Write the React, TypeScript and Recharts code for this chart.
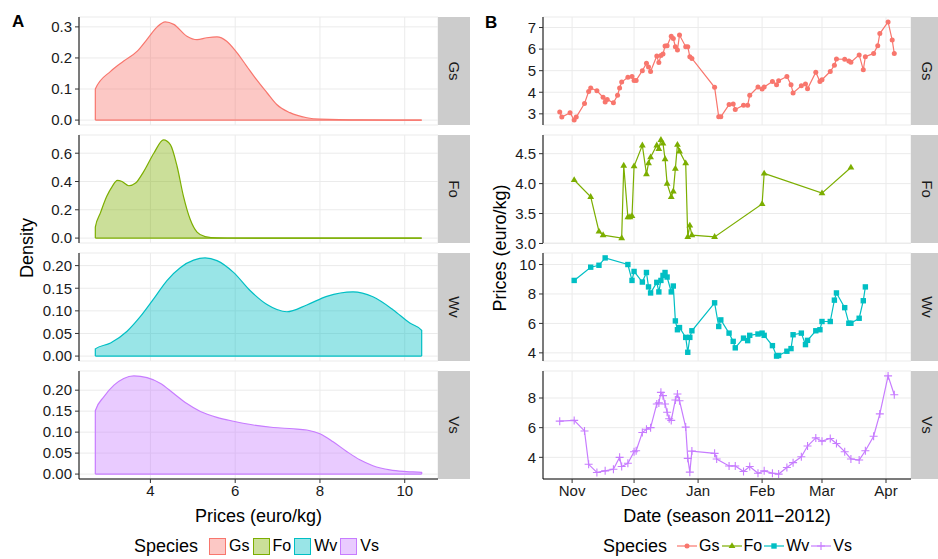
import React from 'react';
import { AreaChart, Area, LineChart, Line, XAxis, YAxis, CartesianGrid, ReferenceLine } from 'recharts';

const species = ['Gs', 'Fo', 'Wv', 'Vs'];
const speciesColors = ['#F8766D', '#7CAE00', '#00BFC4', '#C77CFF'];

// --- panel A: price densities (euro/kg -> density)
const gsDensPrice = [2.7, 3.06, 3.37, 3.69, 3.92, 4.16, 4.35, 4.55, 4.86, 5.1, 5.33, 5.57, 5.8, 6.04, 6.27, 6.5, 6.75, 6.98, 7.29, 7.69, 8.0, 9.0, 10.4];
const gsDens = [0.1, 0.157, 0.19, 0.222, 0.26, 0.3, 0.316, 0.308, 0.27, 0.259, 0.265, 0.268, 0.254, 0.217, 0.174, 0.131, 0.088, 0.05, 0.024, 0.0075, 0.003, 0.0005, 0];

const foDensPrice = [2.7, 2.82, 2.97, 3.1, 3.22, 3.33, 3.49, 3.65, 3.84, 4.08, 4.31, 4.47, 4.63, 4.78, 4.94, 5.1, 5.29, 5.57, 6.5, 10.4];
const foDens = [0.077, 0.178, 0.295, 0.366, 0.408, 0.4, 0.37, 0.389, 0.47, 0.6, 0.694, 0.66, 0.506, 0.295, 0.131, 0.042, 0.01, 0.001, 0, 0];

const wvDensPrice = [2.7, 3.06, 3.45, 3.76, 4.08, 4.39, 4.71, 5.02, 5.29, 5.57, 5.96, 6.35, 6.75, 7.22, 7.69, 8.16, 8.78, 9.25, 9.73, 10.12, 10.4];
const wvDens = [0.016, 0.029, 0.055, 0.087, 0.127, 0.167, 0.196, 0.212, 0.217, 0.211, 0.185, 0.145, 0.114, 0.098, 0.113, 0.132, 0.142, 0.131, 0.102, 0.073, 0.057];

const vsDensPrice = [2.7, 2.9, 3.14, 3.37, 3.61, 3.92, 4.24, 4.55, 4.86, 5.18, 5.57, 5.96, 6.43, 6.9, 7.37, 7.69, 8.0, 8.31, 8.63, 8.94, 9.25, 9.65, 10.04, 10.4];
const vsDens = [0.151, 0.184, 0.212, 0.228, 0.234, 0.23, 0.216, 0.192, 0.168, 0.149, 0.135, 0.126, 0.117, 0.111, 0.108, 0.105, 0.096, 0.077, 0.054, 0.034, 0.02, 0.01, 0.006, 0.004];

const priceTicks = [4, 6, 8, 10];

// --- panel B: prices over the season (days since 1 Nov 2011)
const gsDays = [-6, -5, -1, 1, 2, 6, 8, 9, 12, 15, 16, 17, 20, 22, 23, 24, 27, 29, 30, 31, 34, 36, 37, 38, 41, 42, 43, 44, 45, 46, 48, 49, 50, 51, 52, 55, 56, 57, 58, 69, 71, 72, 76, 78, 79, 83, 85, 86, 90, 92, 93, 97, 99, 100, 104, 106, 107, 111, 113, 114, 118, 120, 121, 125, 127, 128, 132, 134, 135, 139, 141, 142, 146, 148, 149, 153, 155, 156];
const gsPrices = [3.08, 2.85, 3.05, 2.71, 2.85, 3.48, 4.03, 4.2, 4.07, 3.77, 3.55, 3.66, 3.51, 3.86, 4.2, 4.47, 4.69, 4.73, 4.55, 4.55, 5.0, 5.34, 5.17, 4.96, 5.68, 5.38, 5.7, 5.77, 6.14, 6.16, 6.6, 6.49, 6.11, 5.96, 6.65, 6.11, 6.11, 5.65, 5.57, 4.23, 2.86, 2.86, 3.43, 3.46, 3.2, 3.4, 3.4, 3.86, 4.24, 4.15, 4.24, 4.5, 4.35, 4.53, 4.73, 4.35, 3.97, 4.3, 4.38, 4.16, 4.93, 4.5, 4.58, 4.96, 5.25, 5.54, 5.53, 5.45, 5.39, 5.73, 5.04, 5.65, 5.8, 6.16, 6.72, 7.26, 6.42, 5.8];

const foDays = [1, 9, 13, 15, 24, 25, 27, 28, 29, 30, 34, 36, 37, 38, 41, 42, 43, 44, 45, 46, 48, 49, 50, 51, 52, 55, 56, 57, 58, 69, 92, 93, 121, 135];
const foPrices = [4.06, 3.78, 3.2, 3.14, 3.09, 4.3, 3.44, 3.44, 3.46, 4.29, 4.64, 4.16, 4.34, 4.44, 4.64, 4.58, 4.73, 4.67, 4.41, 4.0, 3.78, 3.87, 4.25, 4.65, 4.54, 4.34, 3.11, 3.3, 3.14, 3.11, 3.66, 4.17, 3.84, 4.27];

const wvDays = [1, 9, 13, 16, 27, 29, 30, 34, 36, 37, 38, 41, 42, 43, 44, 45, 46, 48, 49, 50, 51, 52, 55, 56, 57, 58, 69, 71, 72, 76, 78, 79, 83, 85, 86, 90, 92, 93, 97, 99, 100, 104, 106, 107, 111, 113, 114, 118, 120, 121, 125, 127, 128, 132, 134, 135, 139, 141, 142];
const wvPrices = [8.92, 9.82, 9.95, 10.45, 10.0, 8.92, 9.53, 8.81, 9.46, 8.48, 8.07, 8.79, 8.14, 8.92, 9.26, 9.46, 9.15, 8.14, 8.54, 6.17, 5.57, 5.72, 5.05, 4.04, 5.05, 5.5, 7.4, 5.79, 6.24, 5.34, 4.78, 4.34, 5.0, 4.83, 5.19, 5.28, 5.34, 5.19, 4.49, 3.78, 3.82, 4.11, 4.29, 5.23, 5.34, 4.56, 4.85, 5.5, 5.57, 6.13, 6.13, 7.58, 8.07, 7.07, 6.01, 6.01, 6.35, 7.54, 8.48];

const vsDays = [-6, 1, 6, 8, 12, 16, 20, 23, 24, 27, 30, 31, 34, 36, 38, 41, 42, 43, 44, 45, 46, 47, 48, 50, 51, 52, 55, 56, 57, 58, 69, 70, 76, 79, 83, 86, 90, 93, 97, 100, 104, 107, 111, 114, 118, 121, 125, 128, 132, 135, 139, 142, 146, 149, 153, 156];
const vsPrices = [6.44, 6.49, 5.78, 3.53, 2.98, 3.09, 3.2, 4.0, 3.38, 3.6, 4.38, 4.44, 5.67, 5.89, 6.0, 7.6, 7.67, 8.38, 8.16, 7.6, 7.04, 6.6, 6.49, 7.87, 8.27, 7.82, 6.04, 3.93, 3.0, 4.42, 4.27, 3.89, 3.42, 3.42, 3.04, 3.38, 2.93, 3.09, 2.93, 2.87, 3.31, 3.64, 4.04, 4.76, 5.31, 5.09, 5.27, 4.93, 4.38, 3.89, 3.82, 4.44, 5.42, 6.93, 9.49, 8.22];

const monthTicks = [0, 30, 61, 92, 121, 152];
const monthLabels = ['Nov', 'Dec', 'Jan', 'Feb', 'Mar', 'Apr'];

// layout
const FONT = '"Liberation Sans", Arial, Helvetica, sans-serif';
const panelTops = [17, 135, 253, 371];
const panelH = 108;
const TOP_PAD = 10;
const BOTTOM_PAD = 10;
const X_AXIS_H = 45;

const padRange = (vals: number[]): [number, number] => {
  const lo = Math.min(...vals);
  const hi = Math.max(...vals);
  const r = hi - lo;
  return [lo - r * 0.05, hi + r * 0.05];
};
const densRange = (vals: number[]): [number, number] => {
  const hi = Math.max(...vals);
  return [-0.05 * hi, 1.05 * hi];
};

const densityDomain = padRange([...gsDensPrice, ...foDensPrice, ...wvDensPrice, ...vsDensPrice]);
const dayDomain = padRange([...gsDays, ...foDays, ...wvDays, ...vsDays]);

const tickStyle = { fill: '#1a1a1a', fontSize: 15 };

interface DensityPanelProps {
  idx: number;
  prices: number[];
  dens: number[];
  ticks: number[];
  digits: number;
  last?: boolean;
}

const DensityPanel: React.FC<DensityPanelProps> = ({ idx, prices, dens, ticks, digits, last }) => {
  const color = speciesColors[idx];
  const n = prices.length;
  const data = [
    { price: prices[0], dens: 0 },
    ...prices.map((p, i) => ({ price: p, dens: dens[i] })),
    { price: prices[n - 1], dens: 0 },
  ];
  const xh = last ? X_AXIS_H : 0;
  return (
    <div style={{ position: 'absolute', left: 0, top: panelTops[idx] - TOP_PAD }}>
      <AreaChart
        width={438}
        height={TOP_PAD + panelH + xh + BOTTOM_PAD}
        data={data}
        margin={{ top: TOP_PAD, right: 0, bottom: BOTTOM_PAD, left: 0 }}
      >
        <CartesianGrid stroke="#ebebeb" />
        <XAxis
          type="number"
          dataKey="price"
          domain={densityDomain}
          ticks={priceTicks}
          interval={0}
          hide={!last}
          height={xh}
          tick={tickStyle}
          tickSize={4}
          tickMargin={2}
          axisLine={{ stroke: '#000' }}
          tickLine={{ stroke: '#333' }}
          label={{ value: 'Prices (euro/kg)', position: 'insideBottom', offset: 2, fill: '#000', fontSize: 18 }}
        />
        <YAxis
          type="number"
          domain={densRange(dens)}
          ticks={ticks}
          interval={0}
          width={79}
          tick={tickStyle}
          tickSize={4}
          tickMargin={3}
          tickFormatter={(v: number) => v.toFixed(digits)}
          axisLine={{ stroke: '#000' }}
          tickLine={{ stroke: '#333' }}
        />
        <ReferenceLine segment={[{ x: prices[0], y: 0 }, { x: prices[n - 1], y: 0 }]} stroke={color} strokeWidth={1.2} />
        <Area
          type="monotone"
          dataKey="dens"
          stroke={color}
          strokeWidth={1.2}
          fill={color}
          fillOpacity={0.4}
          baseValue={0}
          isAnimationActive={false}
        />
      </AreaChart>
    </div>
  );
};

const Marker: React.FC<{ cx: number; cy: number; idx: number }> = ({ cx, cy, idx }) => {
  const color = speciesColors[idx];
  if (idx === 0) return <circle cx={cx} cy={cy} r={2.5} fill={color} />;
  if (idx === 1)
    return <path d={`M${cx},${cy - 3.8}L${cx + 3.4},${cy + 2.1}L${cx - 3.4},${cy + 2.1}Z`} fill={color} />;
  if (idx === 2) return <rect x={cx - 2.7} y={cy - 2.7} width={5.4} height={5.4} fill={color} />;
  return (
    <path d={`M${cx - 4},${cy}H${cx + 4}M${cx},${cy - 4}V${cy + 4}`} stroke={color} strokeWidth={1.1} fill="none" />
  );
};

interface SeriesPanelProps {
  idx: number;
  days: number[];
  prices: number[];
  ticks: number[];
  digits: number;
  last?: boolean;
}

const SeriesPanel: React.FC<SeriesPanelProps> = ({ idx, days, prices, ticks, digits, last }) => {
  const color = speciesColors[idx];
  const data = days.map((d, i) => ({ day: d, price: prices[i] }));
  const xh = last ? X_AXIS_H : 0;
  return (
    <div style={{ position: 'absolute', left: 480, top: panelTops[idx] - TOP_PAD }}>
      <LineChart
        width={431}
        height={TOP_PAD + panelH + xh + BOTTOM_PAD}
        data={data}
        margin={{ top: TOP_PAD, right: 0, bottom: BOTTOM_PAD, left: 0 }}
      >
        <CartesianGrid stroke="#ebebeb" />
        <XAxis
          type="number"
          dataKey="day"
          domain={dayDomain}
          ticks={monthTicks}
          interval={0}
          hide={!last}
          height={xh}
          tick={tickStyle}
          tickSize={4}
          tickMargin={2}
          tickFormatter={(v: number) => monthLabels[monthTicks.indexOf(v)]}
          axisLine={{ stroke: '#000' }}
          tickLine={{ stroke: '#333' }}
          label={{ value: 'Date (season 2011\u22122012)', position: 'insideBottom', offset: 2, fill: '#000', fontSize: 18 }}
        />
        <YAxis
          type="number"
          domain={padRange(prices)}
          ticks={ticks}
          interval={0}
          width={63}
          tick={tickStyle}
          tickSize={4}
          tickMargin={3}
          tickFormatter={(v: number) => v.toFixed(digits)}
          axisLine={{ stroke: '#000' }}
          tickLine={{ stroke: '#333' }}
        />
        <Line
          type="linear"
          dataKey="price"
          stroke={color}
          strokeWidth={1.2}
          dot={(p: any) => <Marker key={`m${p.index}`} cx={p.cx} cy={p.cy} idx={idx} />}
          activeDot={false}
          isAnimationActive={false}
        />
      </LineChart>
    </div>
  );
};

const Strip: React.FC<{ x: number; y: number; w: number; label: string }> = ({ x, y, w, label }) => (
  <g>
    <rect x={x} y={y} width={w} height={panelH} fill="#cccccc" />
    <text
      transform={`translate(${x + w / 2},${y + panelH / 2}) rotate(90)`}
      textAnchor="middle"
      dominantBaseline="central"
      fontSize={15}
      fill="#1a1a1a"
    >
      {label}
    </text>
  </g>
);

const App: React.FC = () => {
  return (
    <div
      style={{
        position: 'absolute',
        left: 0,
        top: 0,
        width: 938,
        height: 559,
        background: '#fff',
        fontFamily: FONT,
        overflow: 'hidden',
      }}
    >
      <DensityPanel idx={0} prices={gsDensPrice} dens={gsDens} ticks={[0, 0.1, 0.2, 0.3]} digits={1} />
      <DensityPanel idx={1} prices={foDensPrice} dens={foDens} ticks={[0, 0.2, 0.4, 0.6]} digits={1} />
      <DensityPanel idx={2} prices={wvDensPrice} dens={wvDens} ticks={[0, 0.05, 0.1, 0.15, 0.2]} digits={2} />
      <DensityPanel idx={3} prices={vsDensPrice} dens={vsDens} ticks={[0, 0.05, 0.1, 0.15, 0.2]} digits={2} last />

      <SeriesPanel idx={0} days={gsDays} prices={gsPrices} ticks={[3, 4, 5, 6, 7]} digits={0} />
      <SeriesPanel idx={1} days={foDays} prices={foPrices} ticks={[3, 3.5, 4, 4.5]} digits={1} />
      <SeriesPanel idx={2} days={wvDays} prices={wvPrices} ticks={[4, 6, 8, 10]} digits={0} />
      <SeriesPanel idx={3} days={vsDays} prices={vsPrices} ticks={[4, 6, 8]} digits={0} last />

      <svg width={938} height={559} style={{ position: 'absolute', left: 0, top: 0, pointerEvents: 'none' }}>
        <text x={12} y={27} fontSize={17} fontWeight="bold" fill="#000">A</text>
        <text x={485} y={28} fontSize={17} fontWeight="bold" fill="#000">B</text>
        <text transform="translate(27,248) rotate(-90)" textAnchor="middle" dominantBaseline="central" fontSize={18} fill="#000">
          Density
        </text>
        <text transform="translate(500,248) rotate(-90)" textAnchor="middle" dominantBaseline="central" fontSize={18} fill="#000">
          Prices (euro/kg)
        </text>
        {species.map((s, i) => (
          <Strip key={`l${s}`} x={438} y={panelTops[i]} w={32} label={s} />
        ))}
        {species.map((s, i) => (
          <Strip key={`r${s}`} x={911} y={panelTops[i]} w={32} label={s} />
        ))}
      </svg>

      {/* fill legend under A */}
      <div style={{ position: 'absolute', left: 134, top: 535, height: 22, display: 'flex', alignItems: 'center', fontSize: 16, color: '#000' }}>
        <span style={{ fontSize: 18, marginRight: 11 }}>Species</span>
        {species.map((s, i) => (
          <span key={s} style={{ display: 'flex', alignItems: 'center', marginRight: 3 }}>
            <span
              style={{
                width: 15,
                height: 15,
                border: `1.5px solid ${speciesColors[i]}`,
                background: speciesColors[i] + '66',
                marginRight: 3,
              }}
            />
            <span>{s}</span>
          </span>
        ))}
      </div>

      {/* line legend under B */}
      <div style={{ position: 'absolute', left: 603, top: 535, height: 22, display: 'flex', alignItems: 'center', fontSize: 16, color: '#000' }}>
        <span style={{ fontSize: 18, marginRight: 10 }}>Species</span>
        {species.map((s, i) => (
          <span key={s} style={{ display: 'flex', alignItems: 'center', marginRight: 2 }}>
            <svg width={20} height={16} style={{ marginRight: 2 }}>
              <line x1={0} y1={8} x2={20} y2={8} stroke={speciesColors[i]} strokeWidth={1.2} />
              <Marker cx={10} cy={8} idx={i} />
            </svg>
            <span>{s}</span>
          </span>
        ))}
      </div>
    </div>
  );
};

export default App;
